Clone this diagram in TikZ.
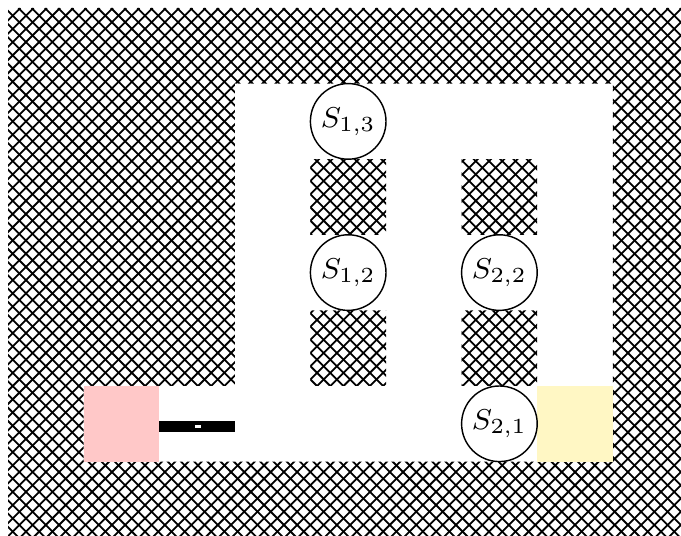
\documentclass[tikz,border=0pt]{standalone}
\usepackage{tikz}
\definecolor{startpink}{RGB}{255,200,200}
\definecolor{goalyellow}{RGB}{255,247,196}

\begin{document}
\begin{tikzpicture}[x=0.74cm, y=0.74cm,
    hatch/.style={line width=0.5pt},
    spot/.style={circle, draw, fill=white, inner sep=0pt,
                 minimum size=0.74cm, font=\footnotesize},
  ]
  \useasboundingbox (-0.106,0.016) rectangle (8.902,7.106);
  \clip (-0.106,0.016) rectangle (8.902,7.106);

  % --- Walls (crosshatched cells) ---
  \begin{scope}
    \clip (0,0) rectangle (9,1)
          (0,6) rectangle (9,7)
          (0,1) rectangle (1,6)
          (1,2) rectangle (3,6)
          (8,1) rectangle (9,6)
          (4,2) rectangle (5,3)
          (4,4) rectangle (5,5)
          (6,2) rectangle (7,3)
          (6,4) rectangle (7,5);
    \foreach \k in {-46,...,46}
      \draw[hatch] (1.038+\k*0.175,0) -- ++(7,7);
    \foreach \k in {-40,...,52}
      \draw[hatch] (6.962+\k*0.175,0) -- ++(-7,7);
  \end{scope}

  % --- Start and goal ---
  \fill[startpink] (1,1) rectangle (2,2);
  \fill[goalyellow] (7,1) rectangle (8,2);

  % --- Gate ---
  \fill[black] (2,1.392) rectangle (3,1.537);
  \fill[white] (2.474,1.448) rectangle (2.549,1.488);

  % --- States ---
  \node[spot] (s13) at (4.5,5.5) {$S_{1,3}$};
  \node[spot] (s12) at (4.5,3.5) {$S_{1,2}$};
  \node[spot] (s22) at (6.5,3.5) {$S_{2,2}$};
  \node[spot] (s21) at (6.5,1.5) {$S_{2,1}$};
\end{tikzpicture}
\end{document}
